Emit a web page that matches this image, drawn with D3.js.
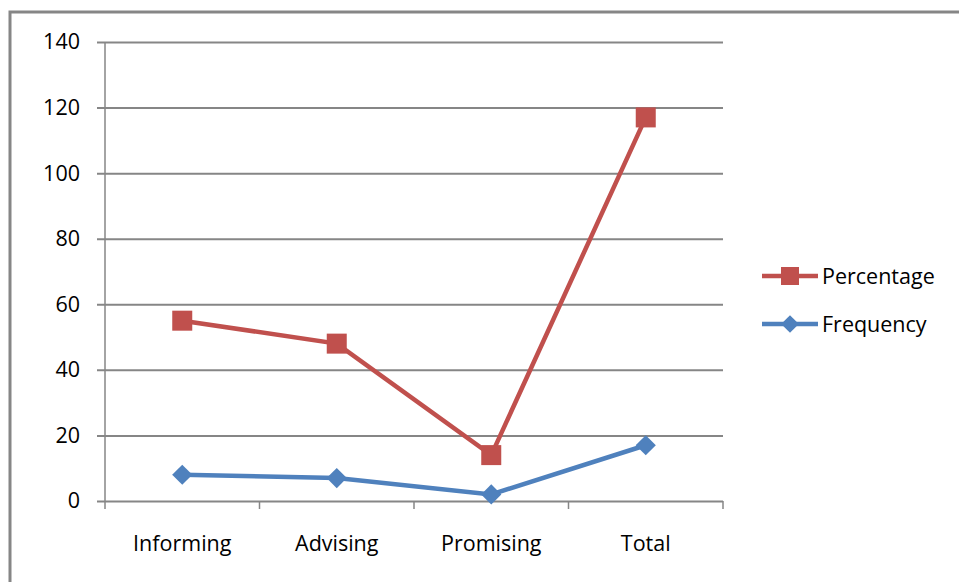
<!DOCTYPE html>
<html>
<head>
<meta charset="UTF-8">
<script src="https://d3js.org/d3.v7.min.js"></script>
<style>
  body { margin: 0; background: #fff; }
  text { font-family: "Open Sans", "DejaVu Sans", sans-serif; fill: #000; }
</style>
</head>
<body>
<div id="chart"></div>
<script>
    // data
    const categories = ["Informing", "Advising", "Promising", "Total"];
    const percentage = [55, 48, 14, 117];
    const frequency = [8, 7, 2, 17];
    const yTicks = [0, 20, 40, 60, 80, 100, 120, 140];
    const seriesNames = ["Percentage", "Frequency"];

    const W = 959, H = 582;
    const plot = {left: 105, right: 723, top: 42, bottom: 501};
    const red = "#c0504d", blue = "#4f81bd", grid = "#868686";
    const fontSize = "21.5px";

    const svg = d3.select("#chart").append("svg")
        .attr("width", W).attr("height", H);

    // outer frame (top and left edges visible)
    svg.append("path")
        .attr("d", `M${W},12 L10,12 L10,${H}`)
        .attr("fill", "none").attr("stroke", grid).attr("stroke-width", 3);

    const x = d3.scaleBand().domain(categories).range([plot.left, plot.right]);
    const y = d3.scaleLinear().domain([0, 140]).range([plot.bottom, plot.top]);

    // horizontal gridlines + y axis labels
    const yAxis = svg.append("g")
        .attr("transform", `translate(${plot.left},0)`)
        .call(d3.axisLeft(y).tickValues(yTicks).tickSize(8).tickPadding(17));
    yAxis.select(".domain").remove();
    yAxis.selectAll(".tick line")
        .attr("x1", -8).attr("x2", plot.right - plot.left)
        .attr("stroke", grid).attr("stroke-width", 2);
    yAxis.selectAll(".tick text")
        .style("font-size", fontSize).attr("fill", "#000").attr("font-family", null);

    // y axis line
    svg.append("line")
        .attr("x1", plot.left).attr("x2", plot.left)
        .attr("y1", plot.top).attr("y2", plot.bottom + 8)
        .attr("stroke", grid).attr("stroke-width", 1.5);

    // x axis
    const xAxis = svg.append("g")
        .attr("transform", `translate(0,${plot.bottom})`)
        .call(d3.axisBottom(x).tickSize(0).tickPadding(35));
    xAxis.select(".domain").remove();
    xAxis.selectAll(".tick text")
        .style("font-size", fontSize).attr("fill", "#000").attr("font-family", null);
    const boundaries = categories.map(c => x(c)).concat([plot.right]);
    svg.append("g").selectAll("line")
        .data(boundaries.slice(1))
        .join("line")
        .attr("x1", d => d).attr("x2", d => d)
        .attr("y1", plot.bottom).attr("y2", plot.bottom + 8)
        .attr("stroke", grid).attr("stroke-width", 1.5);

    const cx = c => x(c) + x.bandwidth() / 2;
    const line = d3.line().x(d => cx(d.cat)).y(d => y(d.val));

    const pctData = categories.map((c, i) => ({cat: c, val: percentage[i]}));
    const freqData = categories.map((c, i) => ({cat: c, val: frequency[i]}));

    // percentage series
    svg.append("path").datum(pctData)
        .attr("d", line).attr("fill", "none")
        .attr("stroke", red).attr("stroke-width", 4.5);
    svg.append("g").selectAll("rect").data(pctData).join("rect")
        .attr("x", d => cx(d.cat) - 10).attr("y", d => y(d.val) - 10)
        .attr("width", 20).attr("height", 20).attr("fill", red);

    // frequency series
    const diamond = d3.symbol().type(d3.symbolDiamond2).size(260);
    svg.append("path").datum(freqData)
        .attr("d", line).attr("fill", "none")
        .attr("stroke", blue).attr("stroke-width", 4.5);
    svg.append("g").selectAll("path").data(freqData).join("path")
        .attr("d", diamond)
        .attr("transform", d => `translate(${cx(d.cat)},${y(d.val)})`)
        .attr("fill", blue);

    // legend
    const legend = svg.append("g");
    const legY = [276, 324];
    const legColors = [red, blue];
    seriesNames.forEach((name, i) => {
        const g = legend.append("g").attr("transform", `translate(0,${legY[i]})`);
        g.append("line").attr("x1", 762).attr("x2", 818).attr("y1", 0).attr("y2", 0)
            .attr("stroke", legColors[i]).attr("stroke-width", 4.5);
        if (i === 0) {
            g.append("rect").attr("x", 781).attr("y", -9).attr("width", 18).attr("height", 18)
                .attr("fill", red);
        } else {
            g.append("path").attr("d", d3.symbol().type(d3.symbolDiamond2).size(200))
                .attr("transform", "translate(790,0)").attr("fill", blue);
        }
        g.append("text").attr("x", 822).attr("y", 0).attr("dy", "0.35em")
            .style("font-size", fontSize).text(name);
    });
</script>
</body>
</html>
